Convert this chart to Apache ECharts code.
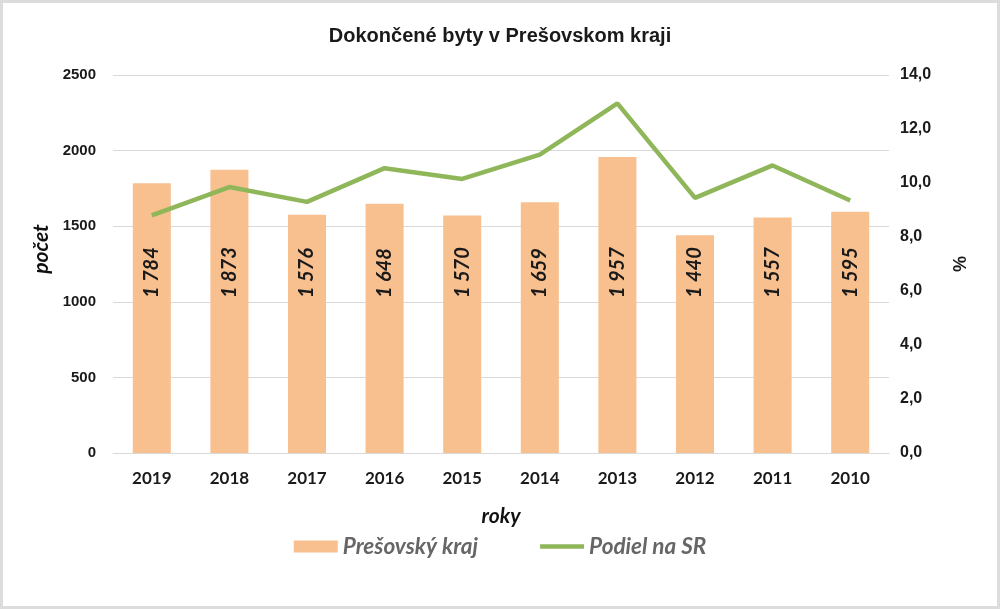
<!DOCTYPE html>
<html><head><meta charset="utf-8">
<script src="https://cdn.jsdelivr.net/npm/echarts@6/dist/echarts.min.js"></script>
<style>html,body{margin:0;padding:0;background:#fff}#c{width:1000px;height:609px}</style>
</head><body><div id="c"></div>
<script>
const categories = ['2019','2018','2017','2016','2015','2014','2013','2012','2011','2010'];
const completedFlats = [1784,1873,1576,1648,1570,1659,1957,1440,1557,1595];
const shareOfSR = [8.8,9.85,9.3,10.55,10.15,11.05,12.95,9.45,10.65,9.35];

const chart = echarts.init(document.getElementById('c'));
const fmtSpace = v => String(v).replace(/\B(?=(\d{3})+(?!\d))/g, ' ');
chart.setOption({
  animation: false,
  backgroundColor: '#fff',
  graphic: [{type:'rect', shape:{x:1.5,y:1.5,width:997,height:606}, style:{fill:'none', stroke:'#dcdcdc', lineWidth:3}, silent:true}],
  title: {
    text: 'Dokončené byty v Prešovskom kraji', left: 'center', top: 21,
    textStyle: {fontFamily: 'Liberation Sans', fontWeight: 'bold', fontSize: 20, color: '#1a1a1a'}
  },
  legend: {
    bottom: 46, left: 'center', itemGap: 62, itemWidth: 44, itemHeight: 12,
    textStyle: {fontFamily: 'Lato', fontStyle: 'italic', fontWeight: 'bold', fontSize: 22.5, color: '#666'},
    data: [{name:'Prešovský kraj', icon:'rect'}, {name:'Podiel na SR', icon:'path://M0,0 L44,0 L44,4.5 L0,4.5 Z'}]
  },
  grid: {left: 113, right: 111, top: 75, bottom: 156},
  xAxis: {
    type: 'category', data: categories,
    name: 'roky', nameLocation: 'middle', nameGap: 53,
    nameTextStyle: {fontFamily: 'Lato', fontStyle: 'italic', fontWeight: 'bold', fontSize: 21, color: '#111'},
    axisLine: {show: true, lineStyle: {color: '#d9d9d9'}}, axisTick: {show: false},
    axisLabel: {fontFamily: 'Lato', fontWeight: 'bold', fontSize: 17, color: '#1a1a1a', margin: 17}
  },
  yAxis: [{
    type: 'value', min: 0, max: 2500, interval: 500,
    name: 'počet', nameLocation: 'middle', nameGap: 60, nameRotate: 90,
    nameTextStyle: {fontFamily: 'Lato', fontStyle: 'italic', fontWeight: 'bold', fontSize: 21, color: '#111', padding: [0, 0, 0, 30]},
    axisLine: {show: false}, axisTick: {show: false},
    splitLine: {lineStyle: {color: '#d9d9d9', width: 1}},
    axisLabel: {fontFamily: 'Liberation Sans', fontWeight: 'bold', fontSize: 15, color: '#1a1a1a', margin: 17,
      formatter: v => String(v)}
  }, {
    type: 'value', min: 0, max: 14, interval: 2,
    name: '%', nameLocation: 'middle', nameGap: 60, nameRotate: -90,
    nameTextStyle: {fontFamily: 'Liberation Sans', fontWeight: 'bold', fontSize: 18, color: '#1a1a1a'},
    axisLine: {show: false}, axisTick: {show: false}, splitLine: {show: false},
    axisLabel: {fontFamily: 'Liberation Sans', fontWeight: 'bold', fontSize: 16, color: '#1a1a1a', margin: 11,
      formatter: v => v.toFixed(1).replace('.', ',')}
  }],
  series: [{
    name: 'Prešovský kraj', type: 'bar', data: completedFlats, barWidth: '49%',
    itemStyle: {color: '#F8BF8F'},
    label: {
      show: true, position: 'insideBottom', distance: 155, rotate: 90,
      align: 'left', verticalAlign: 'middle',
      formatter: p => fmtSpace(p.value),
      fontFamily: 'Lato', fontStyle: 'italic', fontWeight: 'bold', fontSize: 20, color: '#1a1a1a'
    }
  }, {
    name: 'Podiel na SR', type: 'line', yAxisIndex: 1, data: shareOfSR,
    symbol: 'none', lineStyle: {color: '#8FB75A', width: 4.5}, itemStyle: {color: '#8FB75A'}
  }]
});
</script></body></html>
